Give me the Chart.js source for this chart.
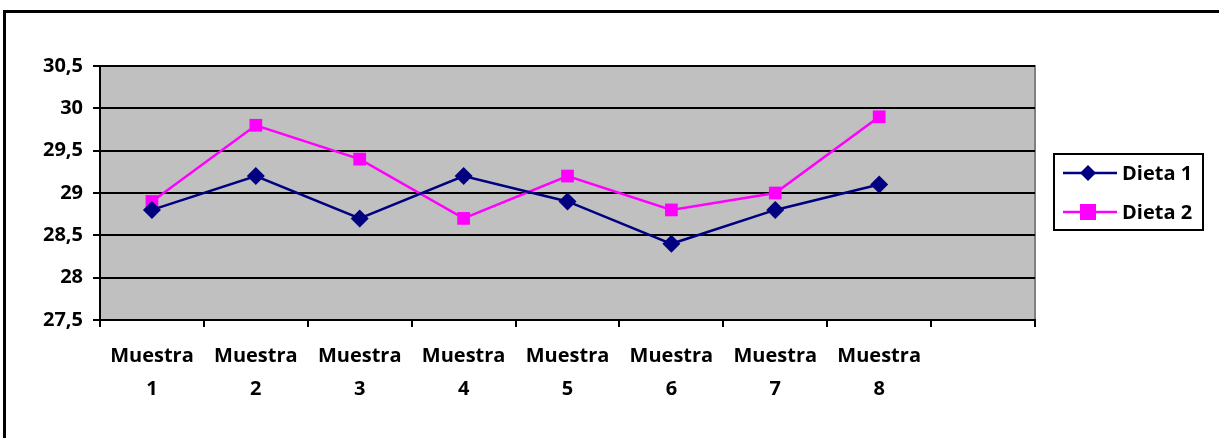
<!DOCTYPE html>
<html>
<head>
<meta charset="utf-8">
<script src="https://cdn.jsdelivr.net/npm/chart.js@4/dist/chart.umd.min.js"></script>
<style>
  html, body { margin: 0; padding: 0; background: #ffffff; }
  #wrap { position: relative; width: 1219px; height: 438px; overflow: hidden; }
  #frame { position: absolute; left: 3px; top: 10px; width: 1230px; height: 440px;
           border-top: 3px solid #000; border-left: 3px solid #000; box-sizing: border-box; }
  canvas { position: absolute; left: 0; top: 0; }
</style>
</head>
<body>
<div id="wrap">
  <div id="frame"></div>
  <canvas id="c" width="1219" height="438"></canvas>
</div>
<script>
// Categories (the ninth slot is left empty, as in the source sheet)
const categories = [["Muestra", "1"], ["Muestra", "2"], ["Muestra", "3"], ["Muestra", "4"],
                    ["Muestra", "5"], ["Muestra", "6"], ["Muestra", "7"], ["Muestra", "8"], ""];
const dieta1 = [28.8, 29.2, 28.7, 29.2, 28.9, 28.4, 28.8, 29.1, null];
const dieta2 = [28.9, 29.8, 29.4, 28.7, 29.2, 28.8, 29.0, 29.9, null];
const seriesNames = ["Dieta 1", "Dieta 2"];
const yMin = 27.5, yMax = 30.5, yStep = 0.5;

const FONT = "'Open Sans', 'Liberation Sans', sans-serif";

// Grey plot background with grey top/right border
const plotBg = {
  id: 'plotBg',
  beforeDraw(chart) {
    const { ctx, chartArea: a } = chart;
    ctx.save();
    ctx.fillStyle = '#C0C0C0';
    ctx.fillRect(a.left, a.top, a.right - a.left, a.bottom - a.top);
    ctx.strokeStyle = '#808080';
    ctx.lineWidth = 2;
    ctx.beginPath();
    ctx.moveTo(a.left, a.top);
    ctx.lineTo(a.right, a.top);
    ctx.lineTo(a.right, a.bottom);
    ctx.stroke();
    ctx.restore();
  }
};

// Boxed legend to the right of the plot
const boxLegend = {
  id: 'boxLegend',
  afterDraw(chart) {
    const { ctx } = chart;
    const x = 1054, y = 154, w = 149, h = 76;
    ctx.save();
    ctx.fillStyle = '#fff';
    ctx.fillRect(x, y, w, h);
    ctx.strokeStyle = '#000';
    ctx.lineWidth = 2;
    ctx.strokeRect(x, y, w, h);
    chart.data.datasets.forEach((ds, i) => {
      const cy = y + 19 + i * 39;
      ctx.strokeStyle = ds.borderColor;
      ctx.lineWidth = 2.5;
      ctx.beginPath();
      ctx.moveTo(x + 9, cy);
      ctx.lineTo(x + 63, cy);
      ctx.stroke();
      ctx.fillStyle = ds.backgroundColor;
      const mx = x + 34;
      if (ds.pointStyle === 'rectRot') {
        ctx.beginPath();
        ctx.moveTo(mx, cy - 8); ctx.lineTo(mx + 8, cy); ctx.lineTo(mx, cy + 8); ctx.lineTo(mx - 8, cy);
        ctx.closePath(); ctx.fill();
      } else {
        ctx.fillRect(mx - 8, cy - 8, 16, 16);
      }
      ctx.fillStyle = '#000';
      ctx.font = 'bold 20px ' + FONT;
      ctx.textBaseline = 'middle';
      ctx.textAlign = 'left';
      ctx.fillText(ds.label, x + 68, cy + 1);
    });
    ctx.restore();
  }
};

new Chart(document.getElementById('c'), {
  type: 'line',
  data: {
    labels: categories,
    datasets: [
      { label: seriesNames[0], data: dieta1, borderColor: '#000080', backgroundColor: '#000080',
        borderWidth: 2.5, pointStyle: 'rectRot', pointRadius: 9, pointHoverRadius: 9,
        pointBorderWidth: 0, tension: 0 },
      { label: seriesNames[1], data: dieta2, borderColor: '#FF00FF', backgroundColor: '#FF00FF',
        borderWidth: 2.5, pointStyle: 'rect', pointRadius: 9, pointHoverRadius: 9,
        pointBorderWidth: 0, tension: 0 }
    ]
  },
  options: {
    responsive: false,
    animation: false,
    events: [],
    layout: { padding: { left: 0, top: 66, right: 184, bottom: 0 } },
    plugins: { legend: { display: false }, tooltip: { enabled: false } },
    scales: {
      x: {
        offset: true,
        grid: { offset: true, drawOnChartArea: false, drawTicks: true, tickLength: 7,
                color: '#000', lineWidth: 2 },
        border: { color: '#000', width: 2 },
        ticks: { color: '#000', font: { family: FONT, size: 20, weight: 'bold', lineHeight: 1.65 },
                 padding: 13, maxRotation: 0, autoSkip: false },
        afterFit(scale) { scale.height = 118; }
      },
      y: {
        min: yMin, max: yMax,
        grid: { color: '#000', lineWidth: 2, tickLength: 7, drawTicks: true },
        border: { color: '#000', width: 2 },
        ticks: { stepSize: yStep, color: '#000', padding: 10,
                 font: { family: FONT, size: 20, weight: 'bold' },
                 callback: v => String(v).replace('.', ',') },
        afterFit(scale) { scale.width = 100; }
      }
    }
  },
  plugins: [plotBg, boxLegend]
});
</script>
</body>
</html>
